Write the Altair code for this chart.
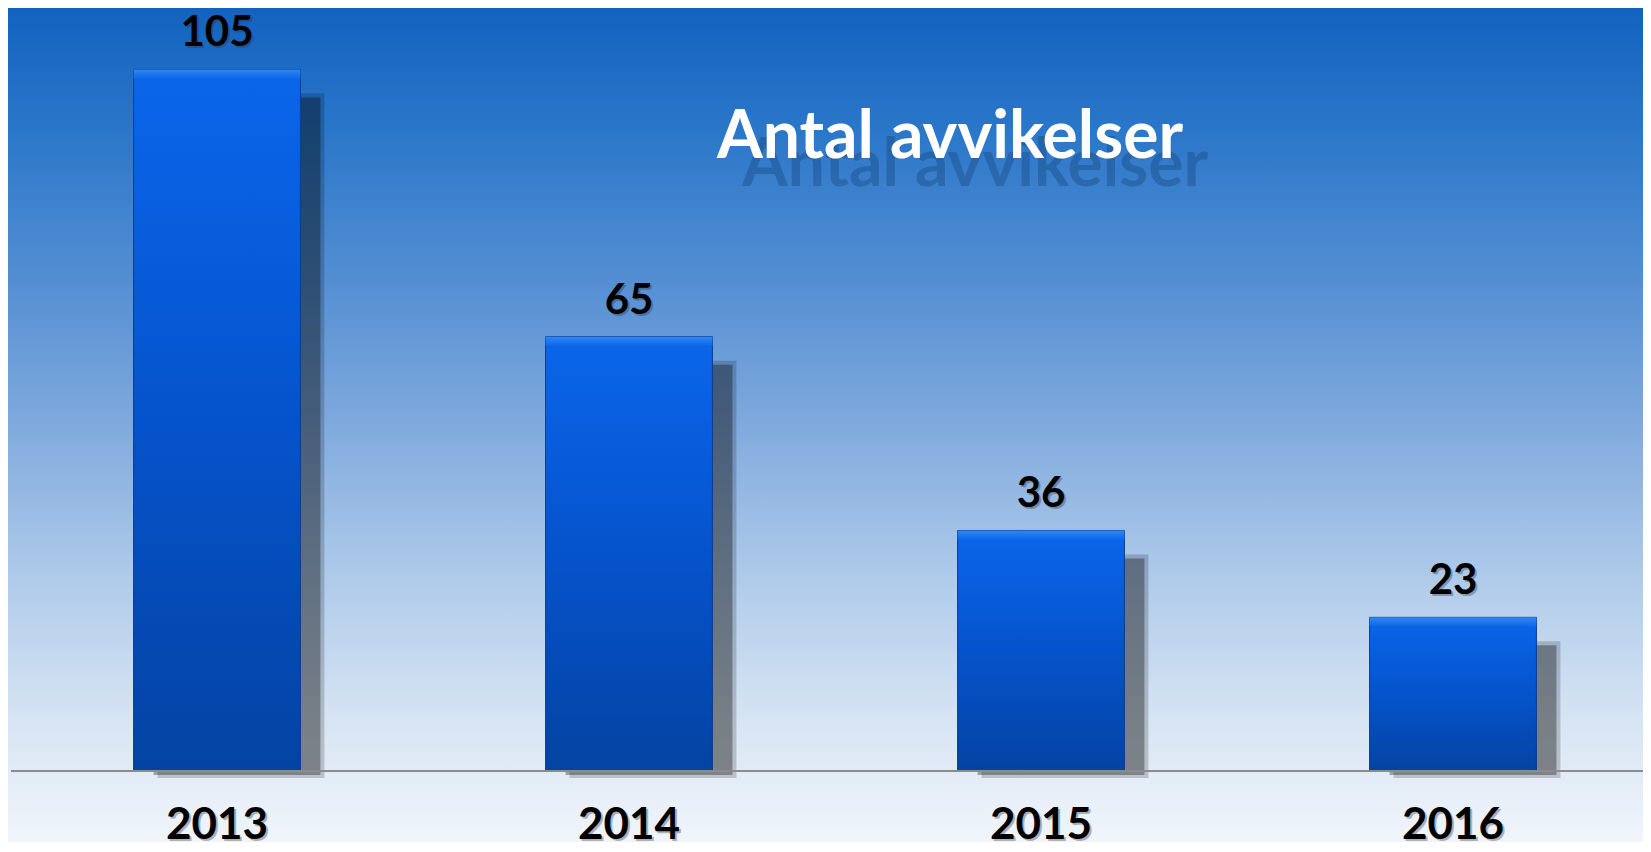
import altair as alt
import pandas as pd

years = ["2013", "2014", "2015", "2016"]
counts = [105, 65, 36, 23]
title_text = "Antal avvikelser"

df = pd.DataFrame({"year": years, "count": counts})

W, H = 1635, 834
FONT = "Lato"

x_scale = alt.Scale(domain=years, range=[3, 1651], paddingInner=0.595, paddingOuter=0.2975)
y_scale = alt.Scale(domain=[0, 114.2], range=[763, 0], nice=False, zero=True)

X = alt.X("year:N", scale=x_scale, axis=None)
Y = alt.Y("count:Q", scale=y_scale, axis=None)

bg_grad = {
    "gradient": "linear", "x1": 0, "y1": 0, "x2": 0, "y2": 1,
    "stops": [
        {"offset": 0.0, "color": "#1262bf"},
        {"offset": 0.15, "color": "#2b77c9"},
        {"offset": 0.33, "color": "#558fd3"},
        {"offset": 0.5, "color": "#80aadd"},
        {"offset": 0.68, "color": "#aecaea"},
        {"offset": 0.85, "color": "#d6e4f3"},
        {"offset": 1.0, "color": "#f1f5fb"},
    ],
}

bar_grad = {
    "gradient": "linear", "x1": 0, "y1": 0, "x2": 0, "y2": 1,
    "stops": [
        {"offset": 0.0, "color": "#0a66ea"},
        {"offset": 0.5, "color": "#0553cc"},
        {"offset": 1.0, "color": "#0443a2"},
    ],
}

bevel_grad = {
    "gradient": "linear", "x1": 0, "y1": 0, "x2": 0, "y2": 1,
    "stops": [
        {"offset": 0.0, "color": "#2f86f2"},
        {"offset": 1.0, "color": "#0d69ea"},
    ],
}

base = alt.Chart(df)

bg = alt.Chart(pd.DataFrame({"a": [0]})).mark_rect(fill=bg_grad).encode(
    x=alt.value(0), x2=alt.value(W), y=alt.value(0), y2=alt.value(H)
)

shadow_outer = base.mark_bar(color="black", opacity=0.18, xOffset=24, yOffset=24, y2Offset=7).encode(
    x=X, y=Y, y2=alt.datum(0)
)
shadow = base.mark_bar(color="black", opacity=0.32, xOffset=20, yOffset=28, y2Offset=4).encode(
    x=X, y=Y, y2=alt.datum(0)
)

bars = base.mark_bar(fill=bar_grad, stroke="#0a3d92", strokeWidth=1).encode(
    x=X, y=Y, y2=alt.datum(0)
)

bevel = base.mark_bar(fill=bevel_grad, y2Offset=9).encode(
    x=X, y=Y, y2="count:Q"
)

baseline = alt.Chart(pd.DataFrame({"a": [0]})).mark_rule(color="#8c8c8c", strokeWidth=2).encode(
    x=alt.value(3), x2=alt.value(W), y=alt.value(763)
)

val_shadow = base.mark_text(font=FONT, fontWeight="bold", fontSize=42, baseline="alphabetic",
                            dy=-21, dx=2, color="#333333", opacity=0.35).encode(x=X, y=Y, text="count:Q")
val_labels = base.mark_text(font=FONT, fontWeight="bold", fontSize=42, baseline="alphabetic",
                            dy=-23, color="black").encode(x=X, y=Y, text="count:Q")

year_shadow = base.mark_text(font=FONT, fontWeight="bold", fontSize=44, baseline="alphabetic",
                             dx=2, dy=2, color="#333333", opacity=0.35).encode(x=X, y=alt.value(831), text="year:N")
year_labels = base.mark_text(font=FONT, fontWeight="bold", fontSize=44, baseline="alphabetic",
                             color="black").encode(x=X, y=alt.value(831), text="year:N")

title_df = pd.DataFrame({"t": [title_text]})
title_shadow = alt.Chart(title_df).mark_text(font=FONT, fontWeight="bold", fontSize=66, baseline="alphabetic",
                                             align="center", color="#0e3566", opacity=0.3).encode(
    x=alt.value(967), y=alt.value(178), text="t:N"
)
title = alt.Chart(title_df).mark_text(font=FONT, fontWeight="bold", fontSize=66, baseline="alphabetic",
                                      align="center", color="white").encode(
    x=alt.value(942), y=alt.value(150), text="t:N"
)

chart = alt.layer(
    bg, title_shadow, title, shadow_outer, shadow, bars, bevel, baseline,
    val_shadow, val_labels, year_shadow, year_labels
).properties(
    width=W, height=H, padding=0, autosize=alt.AutoSizeParams(type="none")
).configure_view(stroke=None)

chart.save("out.html", embed_options={"renderer": "svg", "actions": False})
